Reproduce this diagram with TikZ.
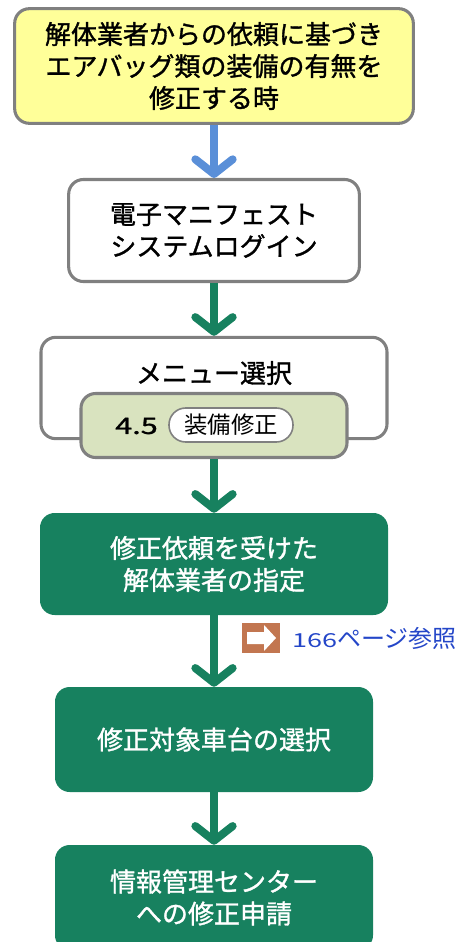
\documentclass[tikz,border=0pt]{standalone}
\usepackage{fontspec}
\setmainfont{Noto Sans CJK JP}
\newfontfamily\jpheavy[FakeBold=1.2]{Noto Sans CJK JP}
\newfontfamily\widedigits[FakeStretch=1.4]{Noto Sans CJK JP}
\newfontfamily\widebold[FakeStretch=1.35, FakeBold=1.2]{Noto Sans CJK JP}
\usetikzlibrary{arrows.meta}
\definecolor{boxgreen}{HTML}{17815F}
\definecolor{boxgray}{HTML}{808080}
\definecolor{boxyellow}{HTML}{FFFF99}
\definecolor{subgreen}{HTML}{D9E3BF}
\definecolor{arrowblue}{HTML}{5A8FD8}
\definecolor{refbrown}{HTML}{C27650}
\definecolor{refblue}{HTML}{2446C8}
\newcommand{\bigtext}{\jpheavy\fontsize{19.5}{24}\selectfont}

\begin{document}
\begin{tikzpicture}[x=0.75pt, y=-0.75pt,
    framebox/.style = {draw=boxgray, line width=2.3pt, rounded corners=11pt, align=center, inner sep=0pt, font=\bigtext},
    greenbox/.style = {fill=boxgreen, text=white, rounded corners=11pt, align=center, inner sep=0pt, font=\bigtext, minimum width=238.5pt, minimum height=78.75pt},
    flow/.style = {line width=6pt, -{Straight Barb[length=11pt, width=28pt, round]}}]
                \clip (0,0) rectangle (471,942);
                % boxes
                \node[framebox, fill=boxyellow, minimum width=299pt, minimum height=86pt] (start) at (214,66) {解体業者からの依頼に基づき\\エアバッグ類の装備の有無を\\修正する時};
                \node[framebox, fill=white, minimum width=218pt, minimum height=76.5pt] (login) at (214,230.5) {電子マニフェスト\\システムログイン};
                \node[framebox, fill=white, minimum width=259.5pt, minimum height=76pt] (menu) at (214,388) {};
                \node[font=\bigtext] (menutitle) at (214,373) {メニュー選択};
                \node[framebox, fill=subgreen, minimum width=199.5pt, minimum height=48pt] (sub) at (214,425.5) {};
                \node[font=\widebold\fontsize{17}{20}\selectfont, anchor=west, inner sep=0pt] (subno) at (115,426) {4.5};
                \node[draw=boxgray, line width=1.2pt, fill=white, rounded corners=12.5pt, minimum width=93pt, minimum height=25.5pt, inner sep=0pt, font=\fontsize{17.5}{20}\selectfont] (subname) at (231,425) {装備修正};
                \node[greenbox, minimum width=261pt, minimum height=76.5pt] (target) at (214,564) {修正依頼を受けた\\解体業者の指定};
                \node[greenbox] (car) at (214,739.5) {修正対象車台の選択};
                \node[greenbox] (apply) at (214,897.5) {情報管理センター\\への修正申請};
                % connectors
                \draw[flow, arrowblue] (start.south) -- (login.north);
                \draw[flow, boxgreen] (login.south) -- (menu.north);
                \draw[flow, boxgreen] (sub.south) -- (target.north);
                \draw[flow, boxgreen] (target.south) -- (car.north);
                \draw[flow, boxgreen] (car.south) -- (apply.north);
                % page reference
                \node[fill=refbrown, minimum width=28.5pt, minimum height=22.5pt, inner sep=0pt] (refmark) at (261,638) {};
                \fill[white] (247,632) -- (264,632) -- (264,625) -- (276,638) -- (264,651) -- (264,644) -- (247,644) -- cycle;
                \node[anchor=west, text=refblue, inner sep=0pt, font=\fontsize{18}{20}\selectfont] (reftext) at (292,638) {{\widedigits\fontsize{14.5}{20}\selectfont 166}ページ参照};
\end{tikzpicture}
\end{document}
